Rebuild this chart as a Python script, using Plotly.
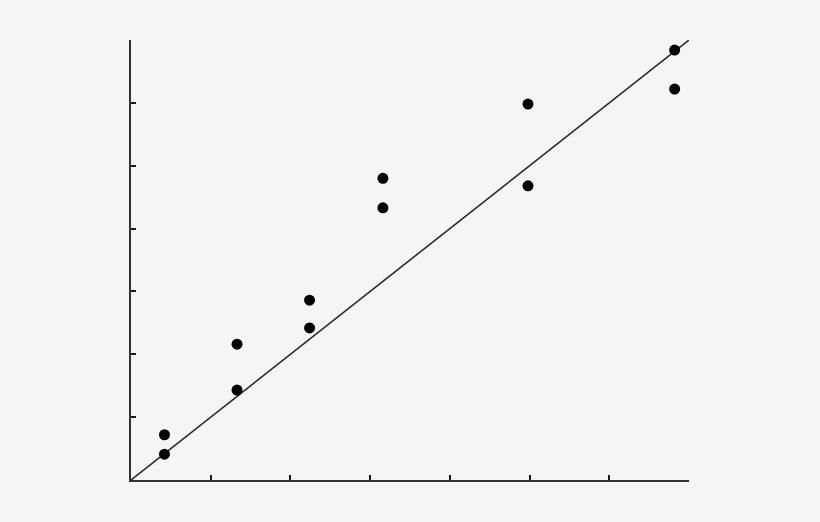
import plotly.graph_objects as go

# data
x_vals = [0.42, 0.42, 1.33, 1.33, 2.24, 2.24, 3.16, 3.16, 4.98, 4.98, 6.82, 6.82]
y_vals = [0.72, 0.41, 2.16, 1.43, 2.86, 2.42, 4.80, 4.33, 5.98, 4.68, 6.84, 6.22]
fit_x = [0, 7]
fit_y = [0, 7]
tick_vals = [0, 1, 2, 3, 4, 5, 6, 7]

fig = go.Figure()
fig.add_trace(go.Scatter(x=fit_x, y=fit_y, mode="lines",
                         line=dict(color="#2b2b2b", width=1.6),
                         showlegend=False, hoverinfo="skip"))
fig.add_trace(go.Scatter(x=x_vals, y=y_vals, mode="markers",
                         marker=dict(color="black", size=11),
                         showlegend=False))

axis_common = dict(range=[0, 7], tickvals=tick_vals, showticklabels=False,
                   ticks="inside", ticklen=5, tickwidth=1.6, tickcolor="#1a1a1a",
                   showline=True, linecolor="#333333", linewidth=1.6,
                   showgrid=False, zeroline=False, fixedrange=True)
fig.update_xaxes(**axis_common)
fig.update_yaxes(**axis_common)

fig.update_layout(width=820, height=522,
                  margin=dict(l=131, r=131, t=40, b=42),
                  paper_bgcolor="#f5f5f5", plot_bgcolor="#f5f5f5")

fig.write_html("out.html",
               config={"displayModeBar": False},
               post_script="document.body.style.margin='0';"
                           "document.body.style.background='#f5f5f5';"
                           "document.body.style.overflow='hidden';")
